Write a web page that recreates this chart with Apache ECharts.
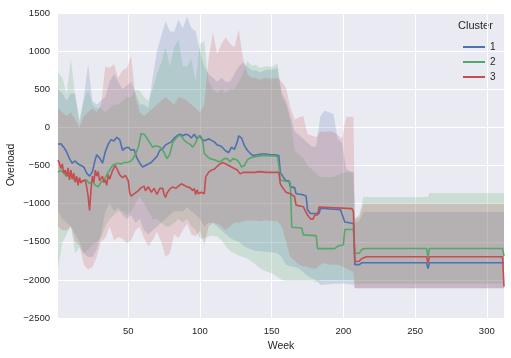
<!DOCTYPE html>
<html><head><meta charset="utf-8">
<script src="https://cdn.jsdelivr.net/npm/echarts@6/dist/echarts.min.js"></script>
<style>html,body{margin:0;padding:0;background:#fff}#c{width:511px;height:358px}</style>
</head><body><div id="c"></div>
<script>
// ---- Data ----
const clusterNames = ['1', '2', '3'];
const xTicks = [50, 100, 150, 200, 250, 300];
const yTicks = [-2500, -2000, -1500, -1000, -500, 0, 500, 1000, 1500];

const blueWeeks = [1,3,5,7,9,11,13,15,17,19,21,23,25,27,28,30,32,34,36,38,40,42,44,46,48,50,52,54,56,58,60,62,64,66,68,70,72,74,76,78,80,82,84,86,88,90,92,94,96,98,100,102,104,106,108,110,112,114,116,118,120,122,124,126,127,129,131,133,135,137,140,143,146,149,152,155,156,158,159,160,162,163,166,167,171,172,174,175,177,183,184,198,199,201,207,208,211,213,258,259,260,312];
const blueMean = [-220,-215,-260,-320,-410,-470,-440,-480,-500,-520,-600,-640,-580,-420,-360,-400,-470,-320,-220,-160,-180,-130,-160,-300,-270,-260,-300,-290,-400,-470,-520,-500,-480,-460,-420,-380,-300,-280,-230,-210,-190,-140,-110,-90,-110,-90,-100,-140,-90,-150,-110,-170,-170,-150,-170,-190,-230,-240,-270,-310,-330,-260,-290,-190,-110,-140,-240,-300,-340,-370,-360,-350,-350,-360,-360,-370,-590,-650,-650,-700,-700,-780,-790,-870,-880,-890,-900,-1080,-1130,-1130,-1060,-1080,-1100,-1240,-1260,-1800,-1800,-1775,-1775,-1850,-1775,-1775];

const greenWeeks = [1,3,5,7,9,11,13,15,17,19,21,23,25,27,29,31,33,35,37,39,41,43,45,47,49,51,53,55,57,59,61,63,65,67,69,71,73,75,77,79,81,83,85,87,89,91,93,95,97,99,101,102,103,105,107,109,111,113,115,117,119,121,123,125,127,129,131,133,135,137,140,143,146,149,152,154,155,156,163,164,171,172,181,182,194,196,200,201,207,208,211,213,216,258,259,260,311,312];
const greenMean = [-590,-560,-600,-640,-620,-660,-700,-680,-720,-700,-690,-740,-700,-760,-780,-720,-700,-620,-560,-500,-480,-470,-480,-460,-460,-450,-420,-350,-260,-80,-90,-140,-200,-260,-240,-250,-270,-330,-410,-350,-200,-150,-110,-110,-170,-200,-220,-260,-200,-110,-150,-190,-340,-380,-410,-420,-430,-450,-440,-410,-410,-450,-410,-420,-450,-520,-500,-430,-400,-390,-380,-370,-370,-370,-375,-380,-500,-690,-720,-1310,-1320,-1410,-1420,-1590,-1590,-1560,-1540,-1340,-1340,-1650,-1650,-1600,-1588,-1588,-1700,-1588,-1588,-1690];

const redWeeks = [1,2,3,4,5,6,7,8,9,10,11,12,13,14,15,16,17,18,20,21,22,23,24,25,26,27,28,29,30,32,33,34,35,36,37,39,40,41,43,44,46,48,50,51,52,53,55,57,59,61,62,64,66,68,70,72,74,75,76,77,79,81,83,85,87,89,91,93,95,96,97,98,99,101,103,104,106,108,110,112,114,116,118,120,122,124,126,128,130,132,135,138,142,146,150,155,156,158,160,163,166,167,172,175,177,179,180,182,183,206,207,208,211,213,216,258,259,260,311,312];
const redMean = [-430,-470,-540,-480,-600,-560,-640,-530,-690,-560,-680,-600,-720,-640,-760,-660,-730,-700,-690,-780,-900,-1090,-820,-640,-720,-560,-640,-580,-700,-640,-720,-690,-760,-620,-680,-570,-530,-500,-580,-620,-660,-630,-700,-860,-900,-920,-860,-830,-790,-770,-830,-780,-850,-800,-880,-800,-800,-880,-920,-860,-810,-780,-800,-770,-740,-760,-780,-790,-830,-800,-880,-820,-870,-850,-870,-650,-590,-560,-550,-510,-480,-460,-480,-500,-520,-540,-560,-610,-590,-590,-590,-590,-580,-590,-590,-590,-740,-800,-850,-870,-910,-1020,-1040,-1150,-1200,-1200,-1150,-1150,-1045,-1065,-1110,-1760,-1755,-1720,-1697,-1697,-1780,-1697,-1697,-2090];

const bandWeeks = [1,4,7,10,13,16,19,22,25,28,31,34,37,40,43,46,49,52,55,58,61,64,67,70,73,76,79,82,85,88,91,94,97,100,103,106,109,112,115,118,121,124,127,130,133,136,139,142,145,148,151,154,157,160,163,166,169,172,175,178,181,184,187,190,193,196,199,202,205,207,208,211,214,259,260,312];

const blueUpper = [500,450,350,450,440,50,400,827,349,300,350,400,600,700,600,500,550,600,450,300,300,250,650,1000,1200,1393,1262,1250,1415,1300,1450,1300,1262,1000,800,700,650,600,650,600,600,700,800,850,800,750,750,720,750,760,760,780,450,350,150,-50,-100,-150,-200,-250,-250,150,218,200,180,-150,-200,-550,-580,-590,-1250,-1230,-1110,-1110,-1110,-1110];
const blueLower = [-1100,-1200,-1250,-1300,-1400,-1500,-1650,-1700,-1700,-1600,-1400,-1100,-1000,-1100,-1050,-1150,-1200,-1150,-1250,-1200,-1350,-1400,-1350,-1300,-1250,-1200,-1150,-1100,-1100,-1100,-1050,-1100,-1150,-1200,-1300,-1250,-1250,-1300,-1350,-1400,-1450,-1480,-1500,-1550,-1580,-1600,-1620,-1620,-1630,-1630,-1640,-1650,-1700,-1800,-1820,-1830,-1850,-1900,-1950,-1980,-2000,-2067,-2060,-2060,-2050,-2050,-2050,-2050,-2060,-2060,-2110,-2110,-2110,-2110,-2110,-2110];
const greenUpper = [720,650,440,900,400,100,350,500,300,250,250,200,250,300,300,350,400,400,500,480,400,350,500,700,850,1050,800,1050,1150,800,800,900,600,1100,1130,600,500,450,500,450,500,500,600,700,870,810,820,780,800,800,800,840,400,300,100,-300,-350,-400,-500,-550,-600,-650,-650,-650,-650,-620,-600,-590,-590,-590,-1190,-1150,-913,-913,-861,-861];
const greenLower = [-1850,-1520,-1400,-1300,-1650,-1580,-1650,-1600,-1550,-1500,-1450,-1300,-1200,-1150,-1100,-1100,-1150,-1100,-1000,-900,-1000,-1100,-1200,-1200,-1250,-1300,-1300,-1250,-1200,-1250,-1200,-1300,-1350,-1460,-1450,-1430,-1420,-1430,-1480,-1560,-1620,-1650,-1680,-1700,-1720,-1760,-1800,-1850,-1880,-1900,-1920,-1960,-2000,-2010,-2010,-2010,-2010,-2010,-2010,-2010,-2030,-2000,-2000,-2000,-2000,-2000,-2000,-2000,-2000,-2000,-2050,-2050,-2050,-2050,-2050,-2050];
const redUpper = [250,200,150,200,100,0,150,200,250,200,300,800,780,827,650,750,780,936,400,200,150,200,250,300,350,400,350,300,400,380,350,300,250,200,300,900,1240,960,1100,1180,1100,1050,1280,914,700,650,650,620,650,640,640,650,600,520,260,100,130,150,-90,-110,-130,-50,-60,-50,-60,-100,-150,140,140,140,-1200,-1180,-1000,-1000,-1000,-1000];
const redLower = [-1300,-1350,-1350,-1300,-1500,-1550,-1800,-1860,-1830,-1700,-1500,-1450,-1300,-1480,-1440,-1460,-1520,-1480,-1350,-1305,-1450,-1560,-1480,-1370,-1500,-1700,-1650,-1400,-1450,-1350,-1260,-1400,-1430,-1350,-1550,-1300,-1250,-1260,-1300,-1350,-1300,-1250,-1250,-1230,-1220,-1220,-1220,-1230,-1220,-1220,-1230,-1230,-1300,-1500,-1700,-1750,-1800,-1820,-1830,-1850,-1850,-1800,-1780,-1800,-1800,-1800,-1820,-1850,-1880,-1900,-2110,-2110,-2110,-2110,-2110,-2110];

const colors = ['#4C72B0', '#55A868', '#C44E52'];

// ---- Build ----
const clusters = [
  { name: clusterNames[0], weeks: blueWeeks, mean: blueMean, up: blueUpper, lo: blueLower },
  { name: clusterNames[1], weeks: greenWeeks, mean: greenMean, up: greenUpper, lo: greenLower },
  { name: clusterNames[2], weeks: redWeeks, mean: redMean, up: redUpper, lo: redLower }
];
const FONT = '"Liberation Sans", Arial, sans-serif';
const TXT = '#262626';
const series = [];
clusters.forEach((c, k) => {
  series.push({
    type: 'custom', name: 'band' + k, silent: true, z: 1,
    encode: { x: 0, y: [1, 2] },
    data: bandWeeks.map((w, i) => [w, c.lo[i], c.up[i]]),
    renderItem: (params, api) => {
      if (params.dataIndex !== 0) return null;
      const pts = [];
      for (let i = 0; i < bandWeeks.length; i++) pts.push(api.coord([bandWeeks[i], c.up[i]]));
      for (let i = bandWeeks.length - 1; i >= 0; i--) pts.push(api.coord([bandWeeks[i], c.lo[i]]));
      return { type: 'polygon', shape: { points: pts }, style: { fill: colors[k], opacity: 0.2 }, silent: true };
    }
  });
});
clusters.forEach((c, k) => {
  series.push({
    type: 'line', name: c.name, z: 3,
    data: c.weeks.map((w, i) => [w, c.mean[i]]),
    symbol: 'none', showSymbol: false,
    lineStyle: { width: 1.6, color: colors[k] },
    itemStyle: { color: colors[k] }
  });
});

const chart = echarts.init(document.getElementById('c'), null, { renderer: 'canvas' });
chart.setOption({
  animation: false,
  backgroundColor: '#ffffff',
  textStyle: { fontFamily: FONT },
  grid: { left: 58, top: 13, width: 446, height: 305, show: true, backgroundColor: '#EAEAF2', borderWidth: 0, containLabel: false, outerBoundsMode: 'none' },
  xAxis: {
    type: 'value', min: 1, max: 312,
    name: 'Week', nameLocation: 'middle', nameGap: 21,
    nameTextStyle: { color: TXT, fontSize: 10.5, fontFamily: FONT },
    axisLine: { show: false }, axisTick: { show: false },
    axisLabel: { customValues: xTicks, color: TXT, fontSize: 9.5, margin: 8, fontFamily: FONT },
    splitLine: { show: true, showMinLine: false, showMaxLine: false, lineStyle: { color: '#ffffff', width: 1 } }
  },
  yAxis: {
    type: 'value', min: yTicks[0], max: yTicks[yTicks.length - 1], interval: 500,
    axisLine: { show: false }, axisTick: { show: false },
    axisLabel: { color: TXT, fontSize: 9.5, margin: 8, fontFamily: FONT, formatter: v => String(v).replace('-', '\u2212') },
    splitLine: { show: true, lineStyle: { color: '#ffffff', width: 1 } }
  },
  legend: {
    data: clusterNames, orient: 'vertical', left: 458, top: 36,
    icon: 'rect', itemWidth: 22, itemHeight: 2, itemGap: 3, itemTextGap: 7,
    textStyle: { color: TXT, fontSize: 10, lineHeight: 12, fontFamily: FONT },
    selectedMode: false
  },
  graphic: [{
    type: 'text', left: 458, top: 20,
    style: { text: 'Cluster', fill: TXT, fontSize: 11, fontFamily: FONT }
  }, {
    type: 'text', x: 11, y: 165, rotation: Math.PI / 2,
    style: { text: 'Overload', fill: TXT, fontSize: 10.5, fontFamily: FONT, align: 'center', verticalAlign: 'middle' }
  }],
  series: series
});
</script>
</body></html>
